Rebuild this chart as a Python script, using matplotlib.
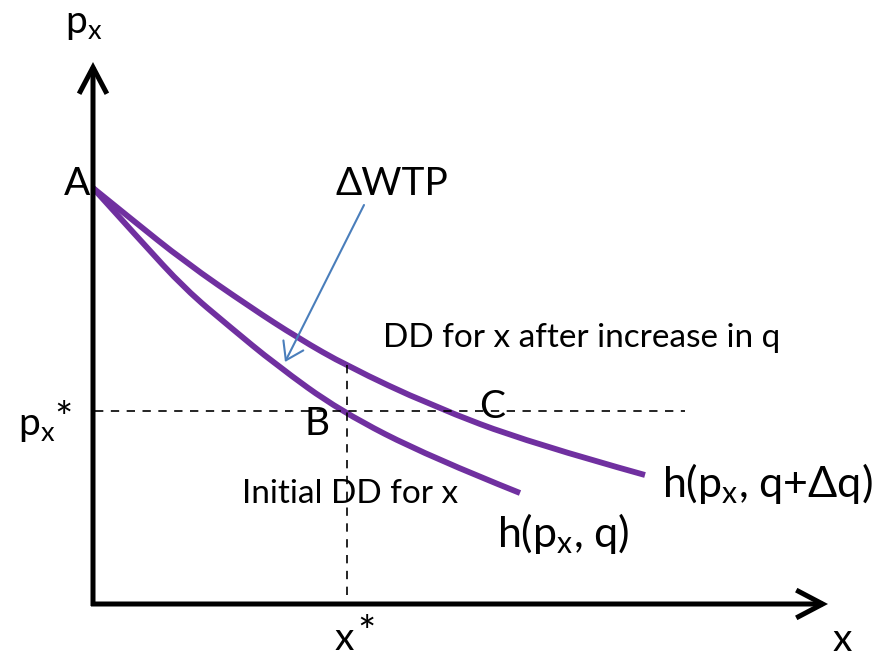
import matplotlib
matplotlib.use("Agg")
import matplotlib.pyplot as plt
from matplotlib.path import Path
from matplotlib.patches import PathPatch

plt.rcParams['font.family'] = ['Lato', 'DejaVu Sans']
plt.rcParams['mathtext.fontset'] = 'custom'
plt.rcParams['mathtext.rm'] = 'Lato'
plt.rcParams['mathtext.it'] = 'Lato:italic'
plt.rcParams['mathtext.fallback'] = 'stixsans'

# Diagram coordinates (origin top-left, y grows downward)
origin = (93, 604)
y_axis_tip = (93, 62)
x_axis_tip = (828, 604)

point_A = (93, 188)
p_star = 411
x_star = 347
p_star_line_end = 685
x_star_line_top = 365

# Demand after the increase in q: h(p_x, q+Δq)
upper_x = [93, 130, 185, 250, 298, 347, 430, 530, 645]
upper_y = [188, 218, 262, 307, 338, 366, 405, 443, 475]

# Initial demand: h(p_x, q)
lower_x = [93, 140, 185, 230, 275, 340, 430, 520]
lower_y = [188, 240, 289, 327, 364, 411, 457, 493]

# ΔWTP pointer
wtp_start = (364, 205)
wtp_tip = (285, 362)

PURPLE = '#7030A0'
BLUE = '#4A7EBB'


def smooth_curve(xs, ys):
    """Quadratic Bezier path using the listed points as guide points."""
    pts = list(zip(xs, ys))
    verts = [pts[0]]
    codes = [Path.MOVETO]
    for i in range(1, len(pts) - 1):
        if i == len(pts) - 2:
            end = pts[-1]
        else:
            end = ((pts[i][0] + pts[i + 1][0]) / 2, (pts[i][1] + pts[i + 1][1]) / 2)
        verts += [pts[i], end]
        codes += [Path.CURVE3, Path.CURVE3]
    return Path(verts, codes)


fig = plt.figure(figsize=(8.92, 6.60), dpi=100)
ax = fig.add_axes([0, 0, 1, 1])
ax.set_xlim(0, 892)
ax.set_ylim(660, 0)
ax.axis('off')

axis_arrow = dict(arrowstyle='->,head_length=19,head_width=10',
                  mutation_scale=1, lw=3.6, color='black',
                  shrinkA=0, shrinkB=0, joinstyle='miter', capstyle='butt')
ax.annotate('', xy=y_axis_tip, xytext=(origin[0], origin[1] + 2),
            arrowprops=axis_arrow)
ax.annotate('', xy=x_axis_tip, xytext=(origin[0] - 2, origin[1]),
            arrowprops=axis_arrow)

# Reference lines at p_x* and x*
ax.plot([origin[0] + 2, p_star_line_end], [p_star, p_star], color='black',
        lw=1.2, dashes=(5, 4.5))
ax.plot([x_star, x_star], [x_star_line_top, origin[1] - 2], color='black',
        lw=1.2, dashes=(5, 4.5))

# Demand curves
for xs, ys in [(upper_x, upper_y), (lower_x, lower_y)]:
    ax.add_patch(PathPatch(smooth_curve(xs, ys), fill=False, edgecolor=PURPLE,
                           lw=4.2, capstyle='butt', joinstyle='round'))

ax.annotate('', xy=wtp_tip, xytext=wtp_start,
            arrowprops=dict(arrowstyle='->,head_length=12,head_width=8',
                            mutation_scale=1, lw=1.5, color=BLUE,
                            shrinkA=0, shrinkB=0))

BIG = 28
CURVE_LABEL = 31
MID = 24
sub = r'$_\mathregular{x}$'
txt = dict(color='black', va='baseline')
ax.text(65, 33, 'p' + sub, fontsize=BIG, ha='left', **txt)
ax.text(90, 195, 'A', fontsize=BIG, ha='right', **txt)
ax.text(18, 435, 'p' + sub, fontsize=BIG, ha='left', **txt)
ax.text(54, 432, '*', fontsize=31, ha='left', **txt)
ax.text(317, 435, 'B', fontsize=BIG, ha='center', **txt)
ax.text(492, 418, 'C', fontsize=BIG, ha='center', **txt)
ax.text(392, 195, 'ΔWTP', fontsize=BIG, ha='center', **txt)
ax.text(383, 347, 'DD for x after increase in q', fontsize=MID, ha='left', **txt)
ax.text(242, 503, 'Initial DD for x', fontsize=MID, ha='left', **txt)
ax.text(497, 547, 'h(p' + sub + ', q)', fontsize=CURVE_LABEL, ha='left', **txt)
ax.text(662, 497, 'h(p' + sub + ', q+Δq)', fontsize=CURVE_LABEL, ha='left', **txt)
ax.text(335, 650, 'x', fontsize=BIG, ha='left', **txt)
ax.text(357, 646, '*', fontsize=31, ha='left', **txt)
ax.text(833, 651, 'x', fontsize=BIG, ha='left', **txt)

fig.savefig('out.png', dpi=100)
